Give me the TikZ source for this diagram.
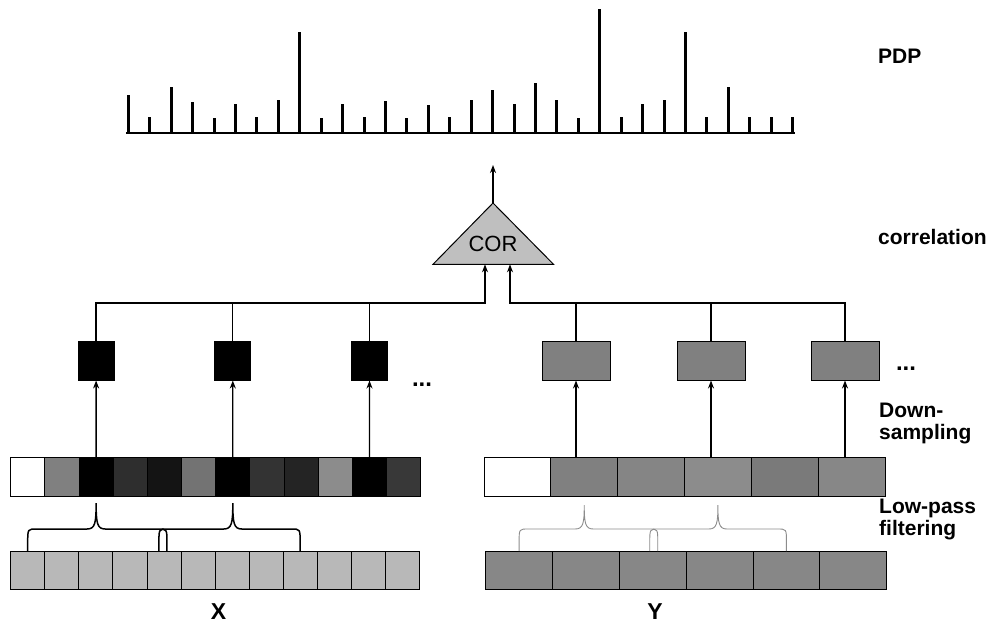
\documentclass[tikz,border=0pt]{standalone}
\usepackage{fontspec}
\setmainfont{Liberation Sans}
\usetikzlibrary{arrows.meta,calc}
\newcommand\drawbrace[4]{%
  \draw[#1] let \p1=(#2), \p2=(#3), \p3=(#4) in
  ({\x1},{\y1}) -- ({\x1},{\y1+9pt}) .. controls ({\x1},{\y1+22pt}) .. ({\x1+9pt},{\y1+22pt})
  -- ({\x2-9pt},{\y1+22pt}) .. controls ({\x2-1pt},{\y1+22pt}) and ({\x2},{\y1+28pt}) .. ({\x2},{\y2})
  .. controls ({\x2},{\y1+28pt}) and ({\x2+1pt},{\y1+22pt}) .. ({\x2+9pt},{\y1+22pt})
  -- ({\x3-9pt},{\y1+22pt}) .. controls ({\x3},{\y1+22pt}) .. ({\x3},{\y1+9pt}) -- ({\x3},{\y3});}
\begin{document}
\begin{tikzpicture}[x=1pt,y=-1pt,
  arr/.style={line width=1.3pt,-{Stealth[length=8pt,width=6pt]}},
  wire/.style={line width=1.3pt},
  bar/.style={line width=3pt},
  lab/.style={anchor=base west,inner sep=0pt,font=\bfseries\fontsize{21}{22}\selectfont,align=left},
  dots/.style={anchor=base,inner sep=0pt,font=\bfseries\fontsize{24}{26}\selectfont},
  lpcellL/.style={draw=black,line width=0.8pt,minimum width=34.17pt,minimum height=39pt,inner sep=0pt,outer sep=0pt},
  lpcellR/.style={draw=black,line width=0.8pt,minimum width=66.83pt,minimum height=39pt,inner sep=0pt,outer sep=0pt},
  xcell/.style={draw=black,line width=0.8pt,fill=black!28,minimum width=34.05pt,minimum height=38pt,inner sep=0pt,outer sep=0pt},
  ycell/.style={draw=black,line width=0.8pt,fill=black!47,minimum width=66.83pt,minimum height=38pt,inner sep=0pt,outer sep=0pt},
  dsL/.style={draw=black,line width=0.8pt,fill=black,minimum width=36pt,minimum height=39pt,inner sep=0pt,outer sep=0pt},
  dsR/.style={draw=black,line width=0.8pt,fill=black!50,minimum width=68pt,minimum height=39pt,inner sep=0pt,outer sep=0pt},
  braceL/.style={line width=1.5pt,draw=black},
  braceR/.style={line width=0.9pt,draw=black!45}]
\useasboundingbox (0,0) rectangle (991,624);
\fill[white] (0,0) rectangle (991,624);

% PDP
\foreach \h [count=\i from 0] in {95,117,87,102,118,104,117,100,32,118,104,117,101,118,105,117,100,90,104,83,100,118,9,117,104,100,32,117,87,117,117,117}
  \draw[bar] ({128.3+21.43*\i},132.5) -- ({128.3+21.43*\i},\h);
\draw[line width=2pt] (126,132.5) -- (794.5,132.5);

% COR triangle
\coordinate (corTop) at (493,203);
\coordinate (corBL) at (433,264.3);
\coordinate (corBR) at (553.5,264.3);
\coordinate (corL) at (485,264.3);
\coordinate (corR) at (510,264.3);
\coordinate (pdpIn) at (493,165);
\coordinate (busL) at (485,303);
\coordinate (busR) at (510,303);
\draw[fill=black!25,line width=1pt,line join=miter] (corBL) -- (corTop) -- (corBR) -- cycle;
\node[anchor=base,inner sep=0pt,font=\fontsize{22}{24}\selectfont] (cor) at (493,251.5) {COR};
\draw[arr] (corTop) -- (pdpIn);

% low-pass rows
\foreach \c [count=\i from 0] in {white,black!50,black,black!82,black!92,black!55,black,black!80,black!86,black!45,black,black!78}
  \node[lpcellL,fill=\c] (lpl\i) at ({10.7+34.17*(\i+0.5)},476.5) {};
\foreach \c [count=\i from 0] in {white,black!50,black!48,black!45,black!52,black!47}
  \node[lpcellR,fill=\c] (lpr\i) at ({484+66.83*(\i+0.5)},476.5) {};

% input rows
\foreach \i in {0,...,11}
  \node[xcell] (xl\i) at ({10.7+34.05*(\i+0.5)},570) {};
\foreach \i in {0,...,5}
  \node[ycell] (yr\i) at ({485.7+66.83*(\i+0.5)},570) {};

% down-sampled boxes
\node[dsL] (dl1) at (96.1,361) {};
\node[dsL] (dl2) at (232.8,361) {};
\node[dsL] (dl3) at (369.5,361) {};
\node[dsR] (dr1) at (576,361) {};
\node[dsR] (dr2) at (711,361) {};
\node[dsR] (dr3) at (845,361) {};

% arrows from low-pass rows
\draw[arr] (lpl2.north) -- (dl1.south);
\draw[arr] (lpl6.north) -- (dl2.south);
\draw[arr] (lpl10.north) -- (dl3.south);
\draw[arr] (dr1.south |- lpr1.north) -- (dr1.south);
\draw[arr] (dr2.south |- lpr3.north) -- (dr2.south);
\draw[arr] (dr3.south |- lpr5.north) -- (dr3.south);

% buses to COR
\draw[arr] (dl1.north) |- (busL) -- (corL);
\draw[wire] (dl2.north) -- (dl2.north |- busL);
\draw[wire] (dl3.north) -- (dl3.north |- busL);
\draw[arr] (dr3.north) |- (busR) -- (corR);
\draw[wire] (dr1.north) -- (dr1.north |- busR);
\draw[wire] (dr2.north) -- (dr2.north |- busR);

% braces
\drawbrace{braceL}{xl0.north}{$(lpl2.south)+(0,7)$}{$(xl4.north)+(3,0)$}
\drawbrace{braceL}{$(xl4.north)+(-5,0)$}{$(lpl6.south)+(0,7)$}{xl8.north}
\drawbrace{braceR}{yr0.north}{$(lpr1.south)+(0,9)$}{$(yr2.north)+(5,0)$}
\drawbrace{braceR}{$(yr2.north)+(-3,0)$}{$(lpr3.south)+(0,9)$}{yr4.north}

% dots
\node[dots] (dotsL) at (422,386) {...};
\node[dots] (dotsR) at (906,370) {...};

% X / Y
\node[anchor=base,inner sep=0pt,font=\bfseries\fontsize{23}{25}\selectfont] (xlab) at (218.5,619) {X};
\node[anchor=base,inner sep=0pt,font=\bfseries\fontsize{23}{25}\selectfont] (ylab) at (655,619) {Y};

% right labels
\node[lab] (lpdp) at (878,63) {PDP};
\node[lab] (lcor) at (878,244) {correlation};
\node[lab,anchor=north west] (lds) at (879,403) {Down-\\sampling};
\node[lab,anchor=north west] (llp) at (879,499) {Low-pass\\filtering};
\end{tikzpicture}
\end{document}
